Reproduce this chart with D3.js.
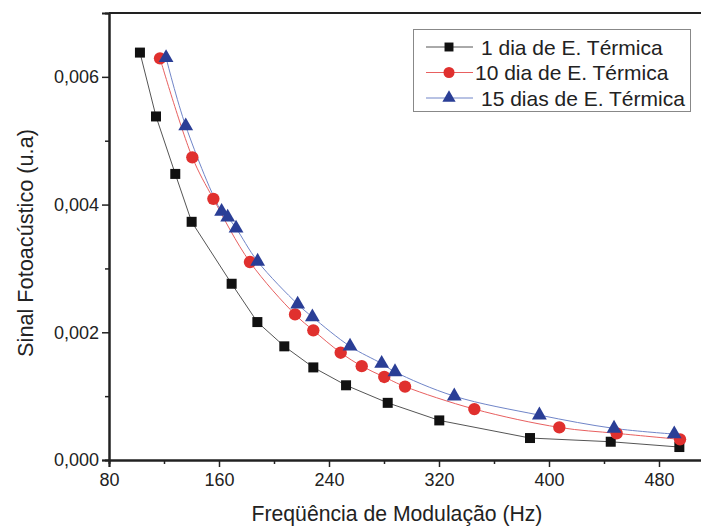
<!DOCTYPE html>
<html>
<head>
<meta charset="utf-8">
<script src="https://cdn.jsdelivr.net/npm/d3@7"></script>
<style>
  body { margin: 0; padding: 0; background: #fff; }
  svg { display: block; font-family: "Liberation Sans", Arial, sans-serif; }
</style>
</head>
<body>
<div id="chart"></div>
<script>
// data
var freq1  = [102.5, 114.2, 128.2, 140.1, 169.2, 187.9, 207.5, 228.6, 252.4, 282.7, 320.2, 386.2, 444.9, 494.8];
var sinal1 = [0.00638, 0.00538, 0.00448, 0.00373, 0.00276, 0.00216, 0.00178, 0.00145, 0.00117, 0.000895, 0.00062, 0.000344, 0.000286, 0.000203];

var freq10  = [117.1, 140.6, 155.9, 182.5, 215.3, 228.6, 248.5, 263.8, 280.2, 295.3, 345.7, 407.5, 449.2, 495.3];
var sinal10 = [0.00629, 0.00474, 0.00409, 0.0031, 0.00228, 0.00203, 0.00168, 0.00147, 0.0013, 0.00115, 0.000797, 0.00051, 0.000417, 0.000323];

var freq15  = [121.5, 135.8, 161.9, 166.3, 172.4, 188.1, 217.2, 227.9, 255.3, 278.3, 288, 331.1, 393, 447.3, 491.1];
var sinal15 = [0.0063, 0.00523, 0.00389, 0.0038, 0.00363, 0.00311, 0.00244, 0.00224, 0.00178, 0.00151, 0.00138, 0.001, 0.000703, 0.000495, 0.000406];

var xTicks = [80, 160, 240, 320, 400, 480];
var yTicks = [0, 0.002, 0.004, 0.006];
var legendLabels = ["1 dia de E. Térmica", "10 dia de E. Térmica", "15 dias de E. Térmica"];

var W = 701, H = 527;
var plotLeft = 109, plotTop = 13, plotBottom = 460;

var x = d3.scaleLinear().domain([80, 520]).range([plotLeft, plotLeft + 440 * 110 / 80]);
var y = d3.scaleLinear().domain([0, 0.007]).range([plotBottom, plotTop]);

var svg = d3.select("#chart").append("svg")
  .attr("width", W).attr("height", H);

var fmt = function(d) { return d3.format(".3f")(d).replace(".", ","); };

// axes
var gx = svg.append("g").attr("transform", "translate(0," + plotBottom + ")");
gx.append("g").call(d3.axisBottom(x).tickValues(d3.range(120, 520, 80)).tickSize(4).tickFormat(""));
gx.append("g").call(d3.axisBottom(x).tickValues(xTicks).tickSize(7).tickPadding(6).tickFormat(d3.format("d")));

var gy = svg.append("g").attr("transform", "translate(" + plotLeft + ",0)");
gy.append("g").call(d3.axisLeft(y).tickValues([0.001, 0.003, 0.005]).tickSize(4).tickFormat(""));
gy.append("g").call(d3.axisLeft(y).tickValues(yTicks).tickSize(7).tickPadding(3).tickFormat(fmt));

svg.selectAll("g").attr("font-family", null);
svg.selectAll(".domain").attr("stroke", "#222").attr("stroke-width", 2);
svg.selectAll(".tick line").attr("stroke", "#222").attr("stroke-width", 1.5);
svg.selectAll(".tick text").attr("font-size", 18).attr("fill", "#222");

// top frame
svg.append("line")
  .attr("x1", plotLeft).attr("x2", W + 5)
  .attr("y1", plotTop).attr("y2", plotTop)
  .attr("stroke", "#222").attr("stroke-width", 2);

// axis titles
svg.append("text")
  .attr("x", 397).attr("y", 521)
  .attr("text-anchor", "middle").attr("font-size", 21.2).attr("fill", "#222")
  .text("Freqüência de Modulação (Hz)");

svg.append("text")
  .attr("transform", "translate(33,243) rotate(-90)")
  .attr("text-anchor", "middle").attr("font-size", 21.7).attr("fill", "#222")
  .text("Sinal Fotoacústico (u.a)");

// series
var series = [
  { xs: freq1, ys: sinal1, line: "#555", fill: "#111", shape: d3.symbolSquare, size: 100, curve: d3.curveLinear },
  { xs: freq10, ys: sinal10, line: "#e86060", fill: "#e0302e", shape: d3.symbolCircle, size: 120, curve: d3.curveCatmullRom },
  { xs: freq15, ys: sinal15, line: "#7085c8", fill: "#2a3e96", shape: d3.symbolTriangle, size: 95, curve: d3.curveCatmullRom }
];

series.forEach(function(s) {
  var pts = s.xs.map(function(v, i) { return [v, s.ys[i]]; });
  var line = d3.line()
    .x(function(d) { return x(d[0]); })
    .y(function(d) { return y(d[1]); })
    .curve(s.curve);
  svg.append("path")
    .attr("d", line(pts))
    .attr("fill", "none").attr("stroke", s.line).attr("stroke-width", 1);
});

series.forEach(function(s) {
  var pts = s.xs.map(function(v, i) { return [v, s.ys[i]]; });
  svg.selectAll(null).data(pts).enter().append("path")
    .attr("d", d3.symbol().type(s.shape).size(s.size))
    .attr("transform", function(d) { return "translate(" + x(d[0]) + "," + y(d[1]) + ")"; })
    .attr("fill", s.fill);
});

// legend
var lg = svg.append("g");
lg.append("rect")
  .attr("x", 413.5).attr("y", 29.5).attr("width", 277).attr("height", 82)
  .attr("fill", "#fff").attr("stroke", "#888").attr("stroke-width", 1);

series.forEach(function(s, i) {
  var cy = 47 + i * 25.5;
  lg.append("line")
    .attr("x1", 426).attr("x2", 473).attr("y1", cy).attr("y2", cy)
    .attr("stroke", s.line).attr("stroke-width", 1);
  lg.append("path")
    .attr("d", d3.symbol().type(s.shape).size(s.size * 0.8))
    .attr("transform", "translate(449," + cy + ")")
    .attr("fill", s.fill);
  lg.append("text")
    .attr("x", i === 1 ? 475 : 481).attr("y", cy + 7.5)
    .attr("font-size", 21).attr("fill", "#222")
    .text(legendLabels[i]);
});
</script>
</body>
</html>
